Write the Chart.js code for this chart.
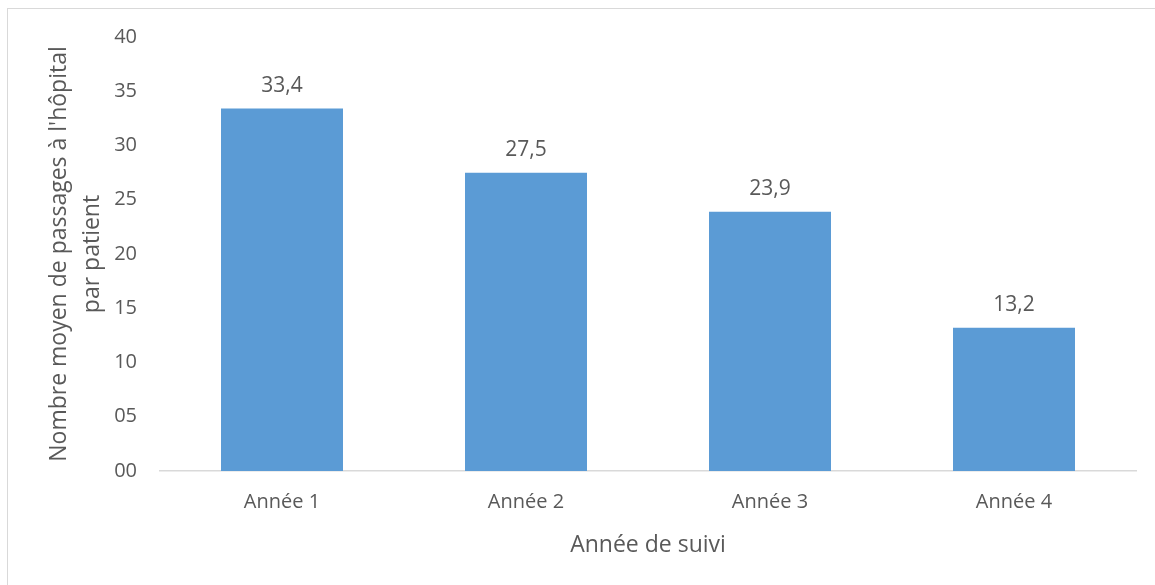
<!DOCTYPE html>
<html>
<head>
<meta charset="utf-8">
<script src="https://cdn.jsdelivr.net/npm/chart.js@4"></script>
<style>
  html, body { margin: 0; padding: 0; background: #fff; overflow: hidden; }
  #frame { position: absolute; left: 7px; top: 8px; width: 1300px; height: 700px; border: 1.5px solid #d9d9d9; }
  #wrap { position: absolute; left: 0; top: 0; width: 1155px; height: 585px; }
</style>
</head>
<body>
<div id="frame"></div>
<div id="wrap"><canvas id="chart"></canvas></div>
<script>
// data
const categories = ['Année 1', 'Année 2', 'Année 3', 'Année 4'];
const passages = [33.4, 27.5, 23.9, 13.2];
const yMax = 40;
const yStep = 5;

const textColor = '#595959';
const fontFamily = "'Open Sans', sans-serif";

// draws the value above each bar, French decimal comma
const barValues = {
    id: 'barValues',
    afterDatasetsDraw(chart) {
        const ctx = chart.ctx;
        const meta = chart.getDatasetMeta(0);
        ctx.save();
        ctx.fillStyle = textColor;
        ctx.font = '21px ' + fontFamily;
        ctx.textAlign = 'center';
        ctx.textBaseline = 'alphabetic';
        meta.data.forEach((bar, i) => {
            const label = passages[i].toFixed(1).replace('.', ',');
            ctx.fillText(label, bar.x, bar.y - 17);
        });
        ctx.restore();
    }
};

const ctx = document.getElementById('chart').getContext('2d');
new Chart(ctx, {
    type: 'bar',
    data: {
        labels: categories,
        datasets: [{
            data: passages,
            backgroundColor: '#5b9bd5',
            categoryPercentage: 1,
            barPercentage: 0.5
        }]
    },
    options: {
        responsive: true,
        maintainAspectRatio: false,
        animation: false,
        layout: { padding: { top: 37, right: 19, left: 0, bottom: 0 } },
        plugins: {
            legend: { display: false },
            tooltip: { enabled: false }
        },
        scales: {
            x: {
                grid: { display: false, drawTicks: false },
                border: { color: '#d9d9d9', width: 1.5 },
                ticks: {
                    color: textColor,
                    font: { family: fontFamily, size: 20 },
                    padding: 19
                },
                title: {
                    display: true,
                    text: 'Année de suivi',
                    color: textColor,
                    font: { family: fontFamily, size: 23 },
                    padding: { top: 0, bottom: 26 }
                },
                afterFit(scale) { scale.height = 114; }
            },
            y: {
                min: 0,
                max: yMax,
                grid: { display: false, drawTicks: false },
                border: { display: false },
                ticks: {
                    stepSize: yStep,
                    color: textColor,
                    font: { family: fontFamily, size: 20 },
                    padding: 23,
                    callback: (v) => String(v).padStart(2, '0')
                },
                title: {
                    display: true,
                    text: ["Nombre moyen de passages à l'hôpital", 'par patient'],
                    color: textColor,
                    font: { family: fontFamily, size: 23, lineHeight: 1.43 },
                    padding: { top: 43, bottom: 0 }
                },
                afterFit(scale) { scale.width = 160; }
            }
        }
    },
    plugins: [barValues]
});
</script>
</body>
</html>
